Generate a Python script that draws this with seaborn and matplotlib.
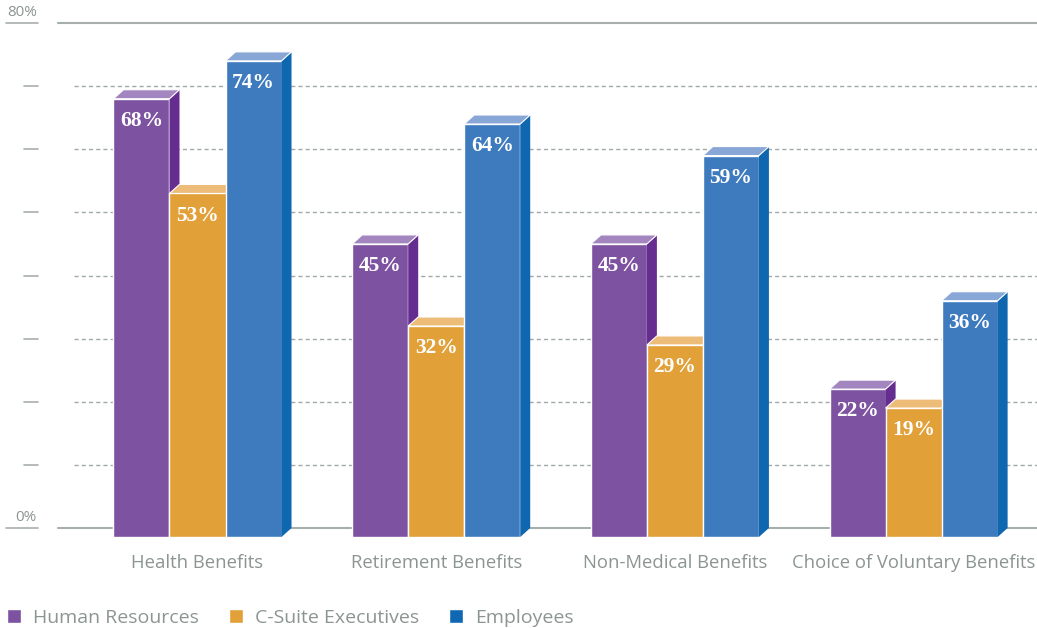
import numpy as np
import pandas as pd
import seaborn as sns
import matplotlib.pyplot as plt
from matplotlib.patches import Polygon, Patch

# Survey results (% of respondents)
categories = ["Health Benefits", "Retirement Benefits",
              "Non-Medical Benefits", "Choice of Voluntary Benefits"]
groups = ["Human Resources", "C-Suite Executives", "Employees"]
hr_values = [68, 45, 45, 22]
csuite_values = [53, 32, 29, 19]
employee_values = [74, 64, 59, 36]
y_tick_labels = {0: "0%", 80: "80%"}

df = pd.DataFrame({
    "category": categories * 3,
    "group": [g for g in groups for _ in categories],
    "value": hr_values + csuite_values + employee_values,
})

sns.set_style("white")
plt.rcParams["font.family"] = ["Open Sans", "DejaVu Sans"]

W, H = 1037, 628
fig = plt.figure(figsize=(W / 100, H / 100), dpi=100)

# pixel geometry of the plotting area
px_per_pct = 505 / 80          # vertical scale
depth_px_y, depth_px_x = 9, 10  # 3D extrusion
group_px = 238.7               # distance between category centres
ax_left_px, ax_top_px, ax_bot_px = 58, 23, 537
ax = fig.add_axes([ax_left_px / W, (H - ax_bot_px) / H,
                   (W - ax_left_px) / W, (ax_bot_px - ax_top_px) / H])

dy = depth_px_y / px_per_pct
dx = depth_px_x / group_px

front = ["#7D52A0", "#E2A038", "#3E7ABE"]
top = ["#A386BF", "#EDBC78", "#88A6D6"]
side = ["#662D91", "#C98420", "#0F67B0"]
legend_colors = ["#7D52A0", "#E2A038", "#1068B3"]
gray = "#8B9592"
line_gray = "#A7AFAD"

sns.barplot(data=df, x="category", y="value", hue="group",
            order=categories, hue_order=groups, palette=front,
            width=0.704, saturation=1, legend=False, ax=ax,
            edgecolor="white", linewidth=1)

for i, cont in enumerate(ax.containers):
    z = 3 + i
    for bar in cont:
        x0, w, v = bar.get_x(), bar.get_width(), bar.get_height()
        bar.set_y(-dy)
        bar.set_height(v + dy)
        bar.set_zorder(z)
        bar.set_clip_on(False)
        top_face = Polygon([(x0, v), (x0 + w, v), (x0 + w + dx, v + dy), (x0 + dx, v + dy)],
                           closed=True, facecolor=top[i], edgecolor="white",
                           linewidth=0.8, zorder=z, clip_on=False)
        side_face = Polygon([(x0 + w, v), (x0 + w + dx, v + dy), (x0 + w + dx, 0), (x0 + w, -dy)],
                            closed=True, facecolor=side[i], edgecolor="none",
                            zorder=z, clip_on=False)
        ax.add_patch(side_face)
        ax.add_patch(top_face)
        ax.annotate(f"{v:.0f}%", (x0 + w / 2, v), xytext=(0, -16),
                    textcoords="offset points", ha="center", va="center",
                    color="white", fontsize=15.5, fontweight="bold",
                    family="Liberation Serif", zorder=z + 10)

# axis limits
x_left = -(197.5 - ax_left_px) / group_px
ax.set_xlim(x_left, x_left + (W - ax_left_px) / group_px)
ax.set_ylim(-dy, 80)

# gridlines and tick marks
ytrans = ax.get_yaxis_transform()
ax_w_px = W - ax_left_px
for y in range(10, 80, 10):
    ax.plot([16 / ax_w_px, 1], [y, y], transform=ytrans, color="#A2AAA8",
            lw=1, ls=(0, (3, 2.2)), zorder=1)
    ax.plot([(24 - ax_left_px) / ax_w_px, (38 - ax_left_px) / ax_w_px], [y, y],
            transform=ytrans, color=line_gray, lw=1.2, clip_on=False)
for y, lab in y_tick_labels.items():
    ax.plot([0, 1], [y, y], transform=ytrans, color=line_gray, lw=1.5,
            zorder=2, clip_on=False)
    ax.plot([(6 - ax_left_px) / ax_w_px, (38 - ax_left_px) / ax_w_px], [y, y],
            transform=ytrans, color=line_gray, lw=1.2, clip_on=False)
    ax.annotate(lab, ((37 - ax_left_px) / ax_w_px, y), xycoords=ytrans,
                xytext=(0, 2.5), textcoords="offset points", ha="right",
                va="bottom", color=gray, fontsize=11, annotation_clip=False)

ax.set_xlabel("")
ax.set_ylabel("")
ax.set_yticks([])
ax.set_xticks(range(len(categories)))
ax.set_xticklabels(categories)
ax.tick_params(axis="x", length=0, pad=12, labelsize=13.3, labelcolor=gray)
sns.despine(ax=ax, left=True, bottom=True)

handles = [Patch(facecolor=c, label=g) for c, g in zip(legend_colors, groups)]
leg = fig.legend(handles=handles, loc="lower left", bbox_to_anchor=(7 / W, 1 / H),
                 ncol=3, frameon=False, fontsize=14, labelcolor=gray,
                 handlelength=0.72, handleheight=0.72, handletextpad=0.62,
                 columnspacing=1.55, borderaxespad=0, borderpad=0)

fig.savefig("out.png", dpi=100)
